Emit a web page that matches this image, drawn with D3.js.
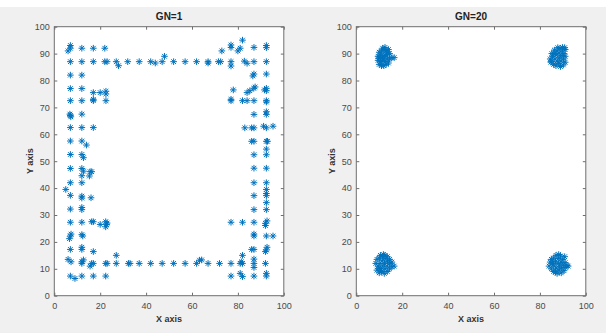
<!DOCTYPE html>
<html>
<head>
<meta charset="utf-8">
<script src="https://cdn.jsdelivr.net/npm/d3@7"></script>
<style>
  html, body { margin: 0; padding: 0; background: #f0f0f0; }
  svg { display: block; font-family: "Liberation Sans", Arial, sans-serif; }
</style>
</head>
<body>
<svg id="chart" width="606" height="333"></svg>
<script>
// tick values shared by both panels
const xTicks = [0, 20, 40, 60, 80, 100];
const yTicks = [0, 10, 20, 30, 40, 50, 60, 70, 80, 90, 100];
const titles = ["GN=1", "GN=20"];

// GN=1: nodes spread around the border of the field
const gn1Points = [
  [6,91],[7,92],[7,93],[12,92],[17,92],[22,92],
  [7,87],[12,87],[17,87],[22,87],[23,87],[27,87],[28,85.5],[32,87],[37,87],[42,87],[44,86.5],
  [47,87],[48,89],[52,87],[57,87],[62,87],[67,87],[67,86.5],[71.5,87],[72.5,87],[73,91],
  [7,82],[12,82],
  [7,77],[12,77],[17,75.5],[20,75.5],[22.5,76],[22.5,75],[17,73],[17,72.5],[7,72.5],[12,72.5],[22.5,72.5],
  [6.8,67.5],[7,67],[7.2,66.5],[12,67.5],
  [7,62.5],[12,62.5],[17,62.5],
  [7,57.5],[12,57.5],[14,56],
  [7,52.5],[12,52.5],[12.7,51.3],
  [7,47.3],[12,47.3],[12.7,46.3],[15.6,46.1],[16.3,46.1],[12,44.6],[15.3,44.5],
  [7,42],[12,42],[5,39.5],[7,37.3],[12,37],[12,36.3],[16,36.4],
  [7,32.2],[12,32.8],[12,32],
  [7,27.3],[12,27.3],[16.3,27.5],[17,27.5],[20,26.5],[22.4,27.5],[22.8,26.5],[22.4,25.6],[23,27],
  [7,22.2],[7.3,22.9],[6.6,21.2],[12,22.7],[12.4,22.2],
  [7,17.2],[12,18],[12,17.2],[17,16.4],
  [6,13.5],[7.3,12.6],[12,12.6],[12.7,13.3],[12,12],[16.3,12],[15.6,11],[17,12],[22.4,12],[23,12],
  [27,15],[27,12],[32.3,12],[33,12],[37,12],[42,12],[47,12],[52,12],[57,12],[62,12],[63.3,13.2],
  [64.2,13.3],[67,12],[72,12],[77,12],[81,12],[82,12],[81.5,12.6],[87,13.6],[87,12],[87,10.5],[92,12],
  [7,7.3],[9,6.4],[12,7.3],[17,7.3],[22.4,7.3],
  [77,93.2],[77,92.3],[77,87],[77,85.4],[80,91],[81,92],[82,95],[82.8,87.2],[84,86.4],[87,92.3],
  [87,87],[92.4,93],[92.4,92.2],[92.4,87],
  [87,82.4],[86.5,81.7],[92.4,82.4],[78,76.5],[84,75.5],[85.2,76.2],[86.9,77.1],[87.5,77.6],
  [91.6,76.5],[92.4,77.1],[92.4,76.2],
  [77,73],[77,72.5],[82,72.5],[84,72.5],[87,72.5],[92.4,72.5],[92.4,72],
  [87,67.4],[92.4,68.4],[92.4,67.4],
  [83,62.4],[86,62.4],[87,62.4],[91.2,63],[92.4,62.4],[95.3,63],
  [86,57.4],[87,57.4],[92.4,57.4],[92.9,57.4],[92.4,54.5],
  [87,52.4],[92.4,52.4],[87,47.4],[92.4,47.4],
  [87,42],[92.4,42],[92.4,39.5],[92.4,38],[87,37.2],[92.4,37.2],[92.4,34.6],[87,32],[92.4,32],
  [77,27.3],[82,27.3],[87,27.3],[92,26.9],[92.7,27.8],[92,26.1],
  [87,22.9],[87,22.2],[92.4,22.2],[95.3,22.2],
  [86,17.2],[87,17.2],[92.4,17],[92.7,18],[92,16.4],
  [82,15],
  [77,7.3],[81,8.3],[82,7.1],[87,7.3],[92.4,8.3],[92.4,7.3]
];

// GN=20: nodes gathered into four corner clusters
const gn20Points = [
  // upper left
  [10,86],[11,85.5],[12,85.5],[13,86],[14,86.5],[9.5,87.5],[10.5,87],[11.5,87.5],[12.5,87],[13.5,88],
  [14.5,88],[15.5,88.5],[16.5,88.5],[9.5,89],[10.5,89.5],[11.5,89],[12.5,89.5],[13.5,89.5],[14.5,90],
  [10,90.5],[11,91],[12,91.5],[13,91],[14,91.5],[11.5,92],[12.5,92.3],[10.8,88.2],[12.2,88.4],
  [13.2,90.6],[9.8,88.3],
  // upper right
  [84.5,88],[85,87],[85.5,89],[86,86],[86.5,88],[86,90],[87,85.5],[87.5,87.2],[87,89.5],[87.5,91],
  [88.2,86.3],[88.5,88.5],[88.3,90.2],[88.8,92],[89.2,87.2],[89.5,89.3],[89.8,91],[90.2,85.8],
  [90.3,88],[90.5,90],[91,86.8],[91,89],[91,91.5],[89,85.2],[86.3,91.3],[85.2,90],[89.8,92.3],
  [87.8,92.2],[90.8,92.2],[84.8,86.8],
  // lower left
  [9,9.5],[9.5,11],[8.5,12],[9,13.5],[10,8.5],[10.5,10],[10.3,12],[10,14],[10.5,15],[11,9],
  [11.5,11],[11.3,13],[11.5,14.5],[12.2,8.3],[12.5,10],[12.3,12],[12.5,13.8],[12.5,15],[13.5,9],
  [13.5,11],[13.6,12.8],[13.5,14.5],[14.5,10],[14.5,12],[14.5,13.5],[15.5,10.8],[15.5,12.5],
  [16.5,11],[9.8,10.2],[11.8,15.3],
  // lower right
  [84,11],[84.5,12.5],[85,10],[85,13.5],[86,9],[86,11.5],[86,14],[86.8,12.8],[87,10.3],[87,15],
  [87.5,8.3],[88,12],[88,13.8],[88.3,9.5],[88.5,11],[89,14.8],[89.2,12.5],[89.3,8.5],[89.5,10.3],
  [90,13.5],[90.2,11.5],[90.5,9.3],[90.8,14.5],[91,12.3],[91,10.5],[91.8,11.2],[92.3,11],
  [88.2,15.3],[85.5,12],[86.8,8.8]
];

const svg = d3.select("#chart");
svg.append("rect").attr("width", 606).attr("height", 7).attr("fill", "#ffffff");

// matlab style '*' marker: plus + cross
const symbolStar = {
  draw(ctx, size) {
    const r = Math.sqrt(size) / 2;
    const d = r * 0.7071;
    ctx.moveTo(-r, 0); ctx.lineTo(r, 0);
    ctx.moveTo(0, -r); ctx.lineTo(0, r);
    ctx.moveTo(-d, -d); ctx.lineTo(d, d);
    ctx.moveTo(-d, d); ctx.lineTo(d, -d);
  }
};
const star = d3.symbol().type(symbolStar).size(44);

const panels = [
  { title: titles[0], points: gn1Points, left: 54.3 },
  { title: titles[1], points: gn20Points, left: 356.3 }
];
const plotTop = 26.7, w = 229.5, h = 269;
const axisColor = "#6e6e6e", textColor = "#4a4a4a";

panels.forEach(p => {
  const g = svg.append("g").attr("transform", `translate(${p.left},${plotTop})`);
  const x = d3.scaleLinear().domain([0, 100]).range([0, w]);
  const y = d3.scaleLinear().domain([0, 100]).range([h, 0]);

  g.append("rect").attr("width", w).attr("height", h).attr("fill", "#ffffff");

  const styleAxis = sel => {
    sel.select(".domain").remove();
    sel.selectAll("line").attr("stroke", axisColor);
    sel.selectAll("text").attr("fill", textColor).style("font-size", "9px");
  };

  g.append("g").attr("transform", `translate(0,${h})`)
    .call(d3.axisBottom(x).tickValues(xTicks).tickSizeInner(-3).tickSizeOuter(0).tickPadding(6.5))
    .call(styleAxis);
  g.append("g")
    .call(d3.axisLeft(y).tickValues(yTicks).tickSizeInner(-3).tickSizeOuter(0).tickPadding(4.5))
    .call(styleAxis);
  g.append("g")
    .call(d3.axisTop(x).tickValues(xTicks).tickSizeInner(-3).tickSizeOuter(0).tickFormat(""))
    .call(styleAxis);
  g.append("g").attr("transform", `translate(${w},0)`)
    .call(d3.axisRight(y).tickValues(yTicks).tickSizeInner(-3).tickSizeOuter(0).tickFormat(""))
    .call(styleAxis);

  g.append("rect").attr("width", w).attr("height", h)
    .attr("fill", "none").attr("stroke", axisColor).attr("stroke-width", 1);

  g.append("g").selectAll("path").data(p.points).join("path")
    .attr("transform", d => `translate(${x(d[0])},${y(d[1])})`)
    .attr("d", star)
    .attr("fill", "none")
    .attr("stroke", "#0072bd")
    .attr("stroke-width", 1);

  g.append("text").attr("x", w / 2).attr("y", -6.3)
    .attr("text-anchor", "middle").attr("font-weight", "bold")
    .style("font-size", "10px").attr("fill", "#222").text(p.title);
  g.append("text").attr("x", w / 2).attr("y", h + 26.5)
    .attr("text-anchor", "middle").attr("font-weight", "bold")
    .style("font-size", "9px").attr("fill", "#333").text("X axis");
  g.append("text").attr("transform", `translate(-21.8,${h / 2}) rotate(-90)`)
    .attr("text-anchor", "middle").attr("font-weight", "bold")
    .style("font-size", "9px").attr("fill", "#333").text("Y axis");
});
</script>
</body>
</html>
